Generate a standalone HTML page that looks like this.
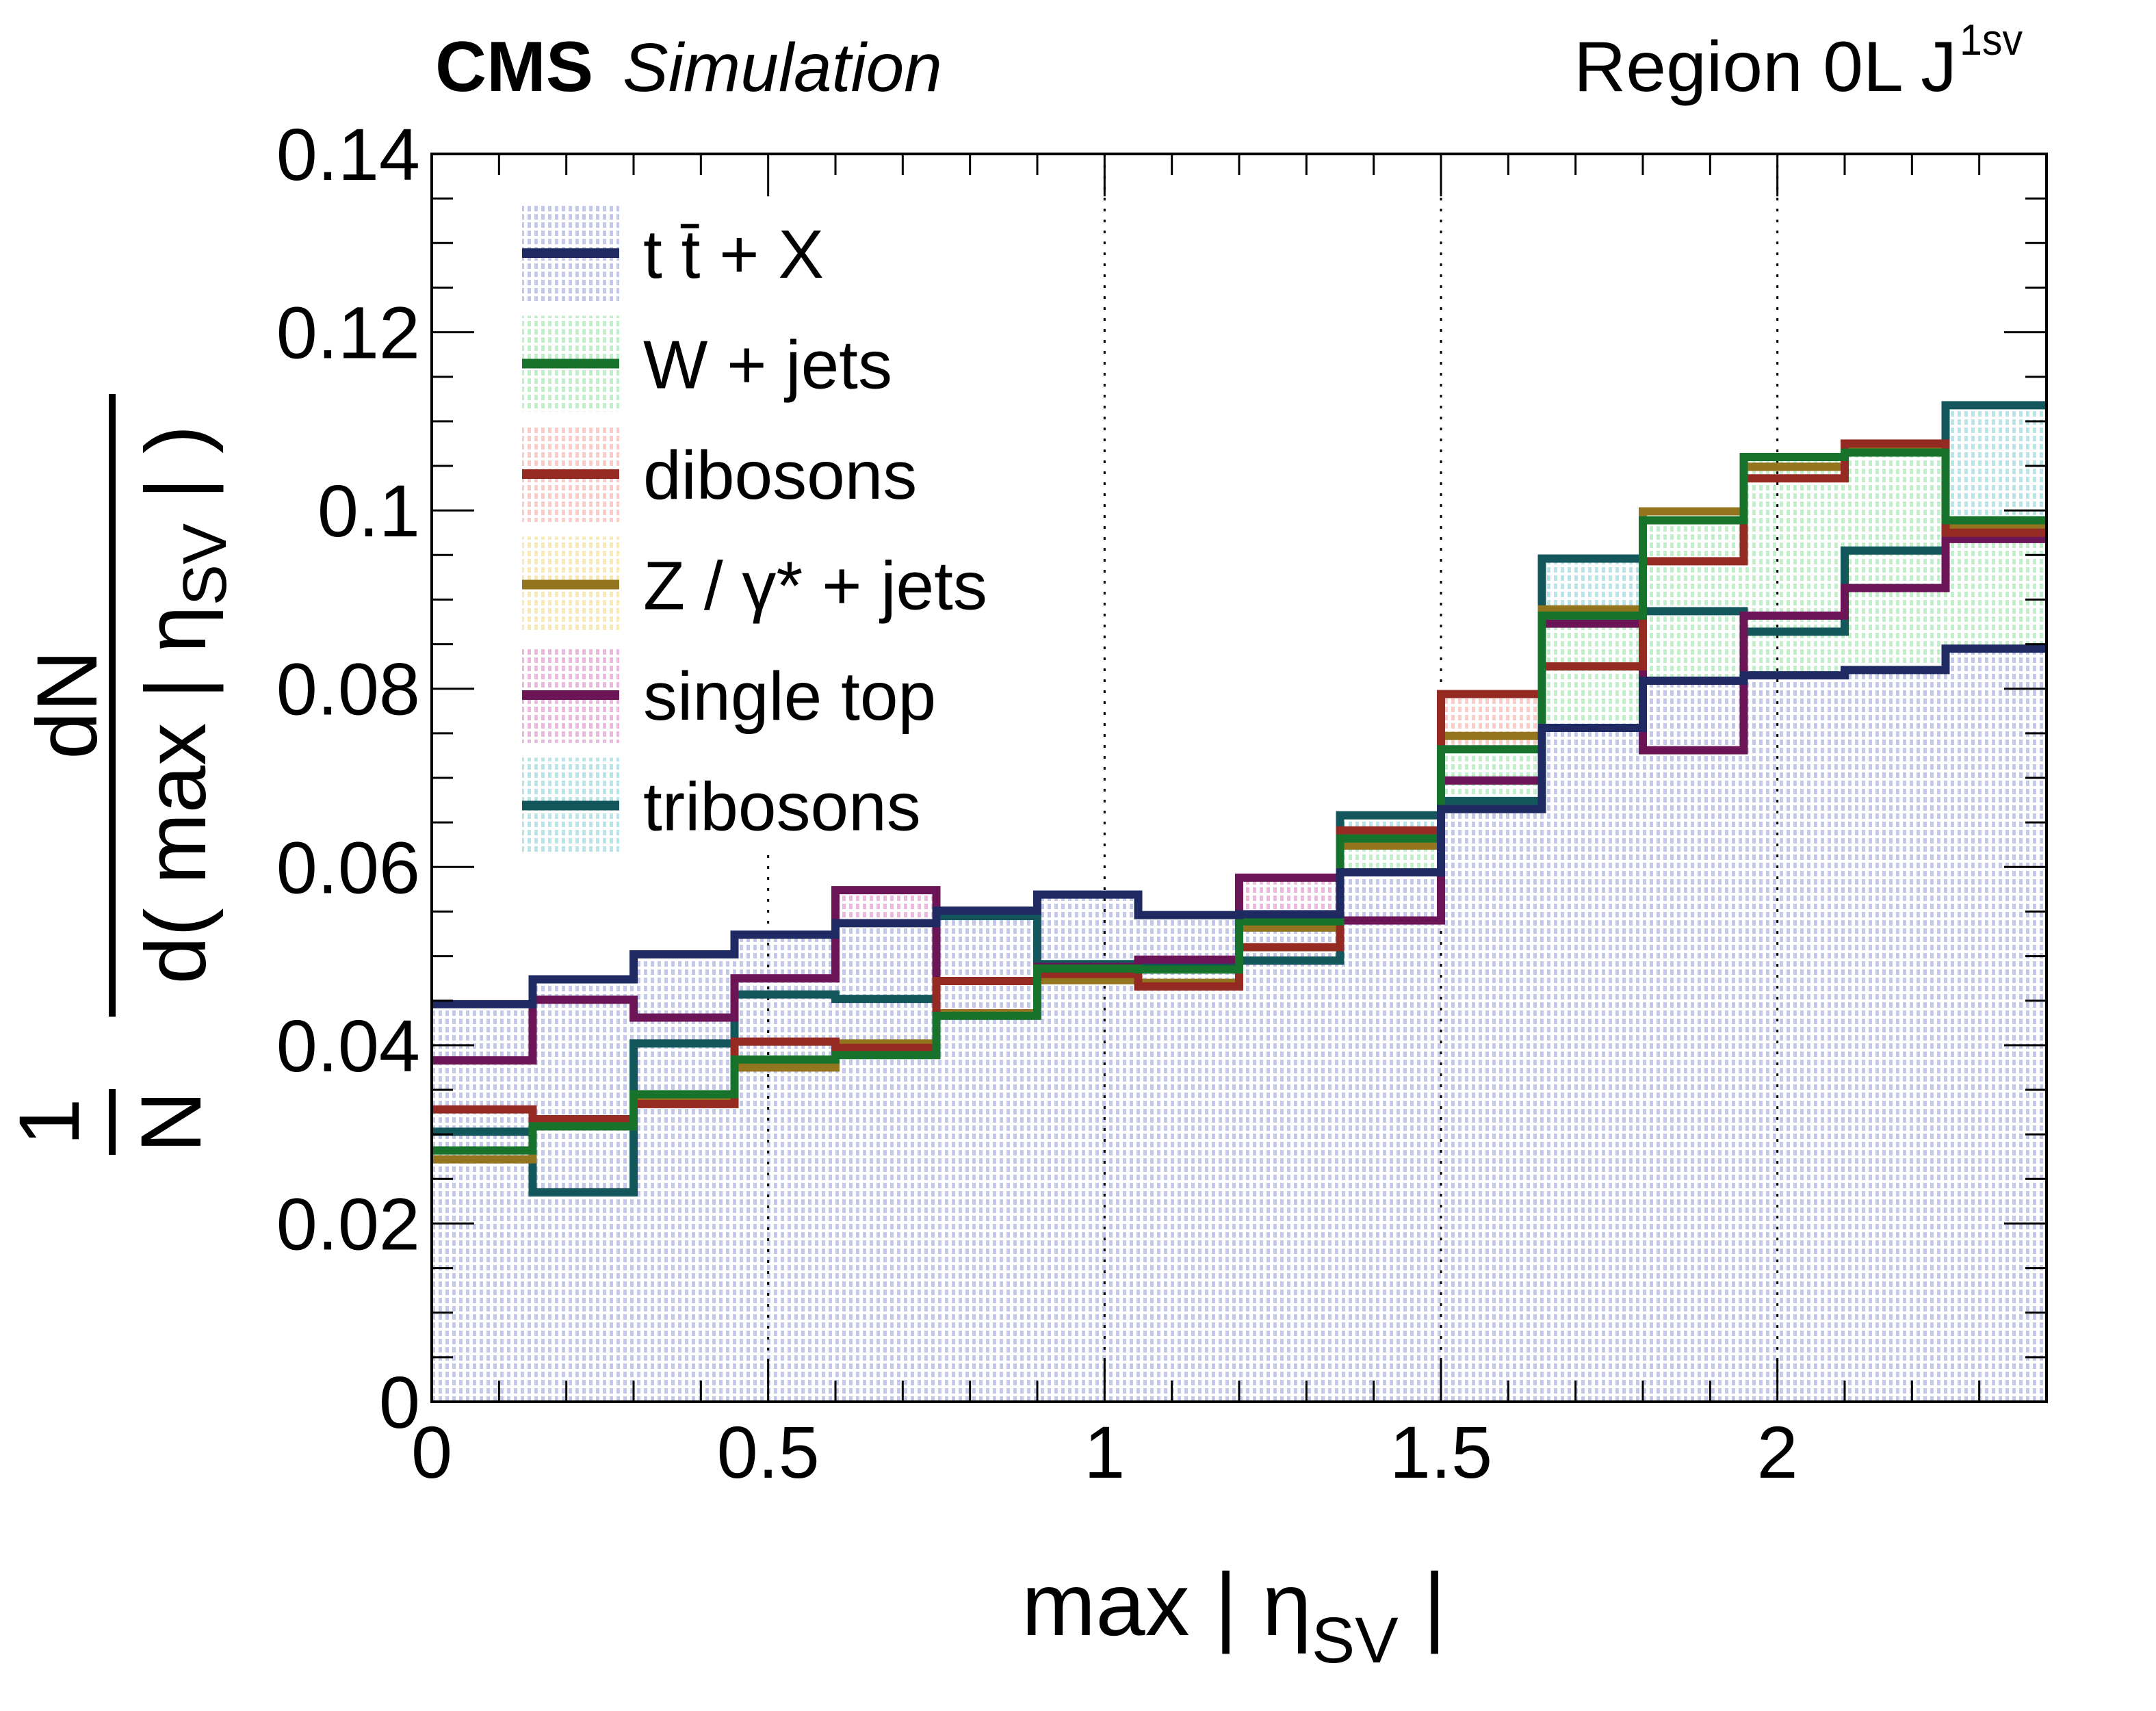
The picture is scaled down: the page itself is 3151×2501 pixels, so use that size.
<!DOCTYPE html>
<html><head><meta charset="utf-8"><title>CMS Simulation max |eta_SV|</title>
<style>html,body{margin:0;padding:0;background:#fff}svg{display:block}text{font-family:"Liberation Sans",sans-serif;fill:#000}</style>
</head><body>
<svg id="chart" width="3151" height="2501" viewBox="0 0 3151 2501" xmlns="http://www.w3.org/2000/svg">
<defs>
<pattern id="p0" width="10" height="12" patternUnits="userSpaceOnUse"><rect width="10" height="12" fill="#fff"/><rect x="1" y="1" width="5" height="8" fill="#c3c8ef"/></pattern>
<pattern id="p1" width="10" height="12" patternUnits="userSpaceOnUse"><rect width="10" height="12" fill="#fff"/><rect x="1" y="1" width="5" height="8" fill="#bdf2c8"/></pattern>
<pattern id="p2" width="10" height="12" patternUnits="userSpaceOnUse"><rect width="10" height="12" fill="#fff"/><rect x="1" y="1" width="5" height="8" fill="#ffc9c5"/></pattern>
<pattern id="p3" width="10" height="12" patternUnits="userSpaceOnUse"><rect width="10" height="12" fill="#fff"/><rect x="1" y="1" width="5" height="8" fill="#fbeab0"/></pattern>
<pattern id="p4" width="10" height="12" patternUnits="userSpaceOnUse"><rect width="10" height="12" fill="#fff"/><rect x="1" y="1" width="5" height="8" fill="#f0b6e0"/></pattern>
<pattern id="p5" width="10" height="12" patternUnits="userSpaceOnUse"><rect width="10" height="12" fill="#fff"/><rect x="1" y="1" width="5" height="8" fill="#b5e6ea"/></pattern>
</defs>
<g id="fills"></g>
<g id="grid"></g>
<g id="lines"></g>
<g id="legend"></g>
<g id="axes"></g>
<text x="636" y="133" font-size="104" font-weight="bold">CMS</text>
<text x="910" y="133" font-size="100" font-style="italic">Simulation</text>
<text x="2300" y="133" font-size="104" textLength="560" lengthAdjust="spacingAndGlyphs">Region 0L J</text>
<text x="2864" y="80" font-size="64" textLength="92" lengthAdjust="spacingAndGlyphs">1sv</text>
<text x="1493" y="2390" font-size="130">max | η<tspan font-size="95" dy="40">SV</tspan><tspan dy="-40"> |</tspan></text>
<g>
<text transform="translate(141,1030) rotate(-90)" text-anchor="middle" font-size="125">dN</text>
<rect x="159" y="576" width="10" height="910" fill="#000"/>
<text transform="translate(300,1030) rotate(-90)" text-anchor="middle" font-size="125">d( max | η<tspan font-size="90" dy="30">SV</tspan><tspan dy="-30"> | )</tspan></text>
<text transform="translate(115,1640) rotate(-90)" text-anchor="middle" font-size="125">1</text>
<rect x="159" y="1592" width="10" height="96" fill="#000"/>
<text transform="translate(293,1640) rotate(-90)" text-anchor="middle" font-size="125">N</text>
</g>
</svg>
<script>
const binEdges=[0,0.15,0.3,0.45,0.6,0.75,0.9,1.05,1.2,1.35,1.5,1.65,1.8,1.95,2.1,2.25,2.4];
const seriesNames=["t t̄ + X","W + jets","dibosons","Z / γ* + jets","single top","tribosons"];
const ttX=[0.0446,0.0474,0.0502,0.0524,0.0537,0.0551,0.0569,0.0546,0.0547,0.0594,0.0665,0.0756,0.0809,0.0815,0.0821,0.0845];
const wjets=[0.0282,0.0309,0.0345,0.0384,0.0389,0.0433,0.0486,0.0485,0.0539,0.0632,0.0732,0.0882,0.0989,0.1060,0.1065,0.0989];
const dibosons=[0.0328,0.0317,0.0334,0.0404,0.0397,0.0472,0.0480,0.0466,0.0510,0.0641,0.0794,0.0825,0.0943,0.1036,0.1075,0.0975];
const zjets=[0.0272,0.0309,0.0340,0.0375,0.0402,0.0436,0.0473,0.0470,0.0532,0.0624,0.0747,0.0889,0.0999,0.1049,0.1068,0.0982];
const singletop=[0.0383,0.0451,0.0431,0.0475,0.0574,0.0472,0.0488,0.0496,0.0588,0.0540,0.0697,0.0873,0.0731,0.0882,0.0913,0.0968];
const tribosons=[0.0303,0.0235,0.0402,0.0457,0.0452,0.0545,0.0491,0.0493,0.0495,0.0658,0.0674,0.0946,0.0887,0.0864,0.0955,0.1118];
const yTickLabels=["0","0.02","0.04","0.06","0.08","0.1","0.12","0.14"];
const xTickLabels=["0","0.5","1","1.5","2"];

const X0=631,X1=2991,Y0=2049,Y1=225,XMAX=2.4,YMAX=0.14;
const xs=v=>X0+(X1-X0)*v/XMAX;
const ys=v=>Y0-(Y0-Y1)*v/YMAX;
const NS="http://www.w3.org/2000/svg";
function mk(tag,parent,attrs){const e=document.createElementNS(NS,tag);for(const k in attrs)e.setAttribute(k,attrs[k]);parent.appendChild(e);return e;}
const series=[
 {name:"ttx",data:ttX,color:"#1f2a63",fill:"url(#p0)"},
 {name:"wjets",data:wjets,color:"#17732c",fill:"url(#p1)"},
 {name:"dibosons",data:dibosons,color:"#952a22",fill:"url(#p2)"},
 {name:"zjets",data:zjets,color:"#93741f",fill:"url(#p3)"},
 {name:"single-top",data:singletop,color:"#6b1456",fill:"url(#p4)"},
 {name:"tribosons",data:tribosons,color:"#13575c",fill:"url(#p5)"}
];
function stepPath(d){let p="M"+xs(binEdges[0])+","+ys(d[0]);for(let i=0;i<d.length;i++){p+=" L"+xs(binEdges[i])+","+ys(d[i])+" L"+xs(binEdges[i+1])+","+ys(d[i]);if(i<d.length-1)p+=" L"+xs(binEdges[i+1])+","+ys(d[i+1]);}return p;}
const fills=document.getElementById('fills');
const fillOrder=[5,4,3,2,1,0];
fillOrder.forEach(si=>{const s=series[si];
 const p=mk('path',fills,{d:stepPath(s.data)+" L"+xs(XMAX)+","+Y0+" L"+X0+","+Y0+" Z",fill:s.fill,stroke:"none"});
 
 
});
const grid=document.getElementById('grid');
[0.5,1,1.5,2].forEach(v=>{
 const top=v===0.5?1250:Y1;
 const l=mk('line',grid,{x1:xs(v),x2:xs(v),y1:top,y2:Y0,stroke:"#000","stroke-width":3,"stroke-dasharray":"4,12"});
 
 
});
const lines=document.getElementById('lines');
[5,4,3,2,1,0].forEach(si=>{const s=series[si];
 const p=mk('path',lines,{d:stepPath(s.data),fill:"none",stroke:s.color,"stroke-width":12,"stroke-linejoin":"miter"});
 
 
});
const lg=document.getElementById('legend');
mk('rect',lg,{x:740,y:290,width:720,height:940,fill:"#fff"});
series.forEach((s,i)=>{
 const cy=370+i*161.5;
 const g=mk('g',lg,{});
 
 
 mk('rect',g,{x:763,y:cy-70,width:142,height:140,fill:s.fill});
 mk('rect',g,{x:763,y:cy-7,width:142,height:14,fill:s.color});
 const t=mk('text',g,{x:940,y:cy+36,"font-size":100});
 t.textContent=seriesNames[i];
});
const ax=document.getElementById('axes');
mk('rect',ax,{x:X0,y:Y1,width:X1-X0,height:Y0-Y1,fill:"none",stroke:"#000","stroke-width":4});
for(let k=0;k<=28;k++){const v=k*0.005,y=ys(v),len=(k%4===0)?62:31;
 mk('line',ax,{x1:X0,x2:X0+len,y1:y,y2:y,stroke:"#000","stroke-width":3});
 mk('line',ax,{x1:X1,x2:X1-len,y1:y,y2:y,stroke:"#000","stroke-width":3});}
for(let k=0;k<=24;k++){const v=k*0.1,x=xs(v),len=(k%5===0)?62:31;
 mk('line',ax,{x1:x,x2:x,y1:Y0,y2:Y0-len,stroke:"#000","stroke-width":3});
 mk('line',ax,{x1:x,x2:x,y1:Y1,y2:Y1+len,stroke:"#000","stroke-width":3});}
yTickLabels.forEach((lab,i)=>{const t=mk('text',ax,{x:614,y:ys(i*0.02)+38,"text-anchor":"end","font-size":108});
 
 
 t.textContent=lab;});
xTickLabels.forEach((lab,i)=>{const t=mk('text',ax,{x:xs(i*0.5),y:2160,"text-anchor":"middle","font-size":108});
 
 
 t.textContent=lab;});
</script>
</body></html>
